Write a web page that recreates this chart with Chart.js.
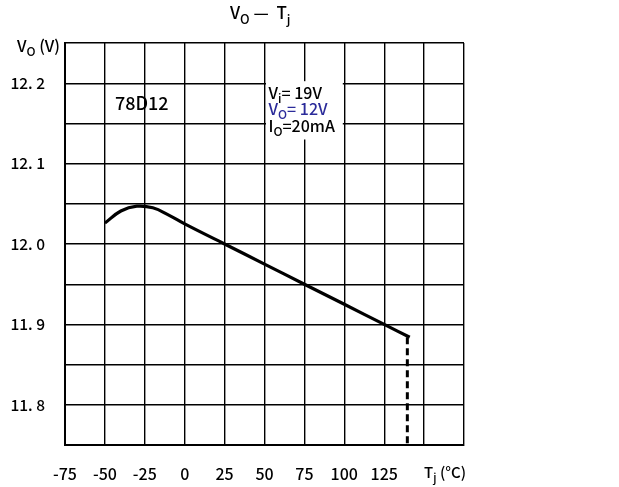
<!DOCTYPE html>
<html>
<head>
<meta charset="utf-8">
<script src="https://cdn.jsdelivr.net/npm/chart.js@4.4.1/dist/chart.umd.min.js"></script>
<style>
  html, body { margin: 0; padding: 0; background: #fff; }
  #wrap { width: 619px; height: 487px; }
</style>
</head>
<body>
<div id="wrap"><canvas id="chart" width="619" height="487"></canvas></div>
<script>
// Vo vs Tj curve, 78D12
const TEMP_C = [-50, -40, -30, -20, -10, 0, 25, 50, 75, 100, 125, 141];
const VOUT_V = [12.026, 12.041, 12.047, 12.045, 12.036, 12.025, 12.0, 11.975, 11.95, 11.925, 11.9, 11.884];
// dashed limit line at the max junction temperature
const LIMIT_T = [139.5, 139.5];
const LIMIT_V = [11.884, 11.75];

const X_TICKS = [-75, -50, -25, 0, 25, 50, 75, 100, 125];
const Y_LABELS = [12.2, 12.1, 12.0, 11.9, 11.8];

const FONT = '"Noto Sans CJK JP", "DejaVu Sans", sans-serif';

// text with subscripts: parts = [[text, isSub], ...]
function subText(ctx, x, y, parts, size, color) {
  ctx.save();
  ctx.fillStyle = color || "#000";
  ctx.textBaseline = "alphabetic";
  ctx.textAlign = "left";
  parts.forEach(([t, sub]) => {
    ctx.font = "500 " + (sub ? size * 0.75 : size) + "px " + FONT;
    ctx.fillText(t, x, sub ? y + size * 0.28 : y);
    x += ctx.measureText(t).width;
  });
  ctx.restore();
}

const labelsPlugin = {
  id: "labels",
  beforeDatasetsDraw(chart) {
    const { ctx, scales: { x, y } } = chart;
    // white box behind the conditions text
    const x0 = x.getPixelForValue(50) + 1.5, x1 = x.getPixelForValue(100) - 1.5;
    const y0 = y.getPixelForValue(12.2) - 2, y1 = y.getPixelForValue(12.13);
    ctx.save();
    ctx.fillStyle = "#fff";
    ctx.fillRect(x0, y0, x1 - x0, y1 - y0);
    ctx.restore();
  },
  afterDraw(chart) {
    const { ctx, scales: { x, y } } = chart;
    subText(ctx, 230, 19, [["V", 0], ["O", 1], [" —  T", 0], ["j", 1]], 17);
    subText(ctx, 17, 52, [["V", 0], ["O", 1], [" (V)", 0]], 16);
    subText(ctx, x.getPixelForValue(150), 478, [["T", 0], ["j", 1], [" (°C)", 0]], 15);

    subText(ctx, 115, 110, [["78D12", 0]], 18);
    const tx = x.getPixelForValue(50) + 4;
    subText(ctx, tx, 99, [["V", 0], ["i", 1], ["= 19V", 0]], 16);
    subText(ctx, tx, 115, [["V", 0], ["O", 1], ["= 12V", 0]], 16, "#2b2b9a");
    subText(ctx, tx, 132, [["I", 0], ["O", 1], ["=20mA", 0]], 16);
  }
};

new Chart(document.getElementById("chart"), {
  type: "line",
  data: {
    datasets: [
      {
        data: TEMP_C.map((t, i) => ({ x: t, y: VOUT_V[i] })),
        borderColor: "#000",
        borderWidth: 3.2,
        pointRadius: 0,
        tension: 0.4,
        fill: false,
      },
      {
        data: LIMIT_T.map((t, i) => ({ x: t, y: LIMIT_V[i] })),
        borderColor: "#000",
        borderWidth: 3,
        borderDash: [7, 4],
        pointRadius: 0,
        fill: false,
      }
    ]
  },
  options: {
    responsive: false,
    animation: false,
    layout: { padding: { top: 43, right: 155, left: 0, bottom: 0 } },
    plugins: { legend: { display: false }, tooltip: { enabled: false } },
    scales: {
      x: {
        type: "linear",
        min: -75, max: 175,
        afterBuildTicks: s => { s.ticks = Array.from({ length: 11 }, (_, i) => ({ value: -75 + i * 25 })); },
        afterFit: s => { s.height = 42; },
        grid: { color: "#000", lineWidth: 1.4, drawTicks: false },
        border: { color: "#000", width: 2 },
        ticks: {
          padding: 19,
          color: "#000",
          font: { family: FONT, size: 16, weight: "500" },
          maxRotation: 0,
          autoSkip: false,
          callback: v => X_TICKS.includes(v) ? String(v) : ""
        }
      },
      y: {
        type: "linear",
        min: 11.75, max: 12.25,
        afterBuildTicks: s => { s.ticks = Array.from({ length: 11 }, (_, i) => ({ value: 11.75 + i * 0.05 })); },
        afterFit: s => { s.width = 65; },
        grid: { color: "#000", lineWidth: 1.4, drawTicks: false },
        border: { color: "#000", width: 2 },
        ticks: {
          padding: 20,
          color: "#000",
          font: { family: FONT, size: 15.5, weight: "500" },
          autoSkip: false,
          callback: v => {
            const hit = Y_LABELS.find(l => Math.abs(l - v) < 1e-6);
            return hit === undefined ? "" : hit.toFixed(1).replace(".", ". ");
          }
        }
      }
    }
  },
  plugins: [labelsPlugin]
});
</script>
</body>
</html>
